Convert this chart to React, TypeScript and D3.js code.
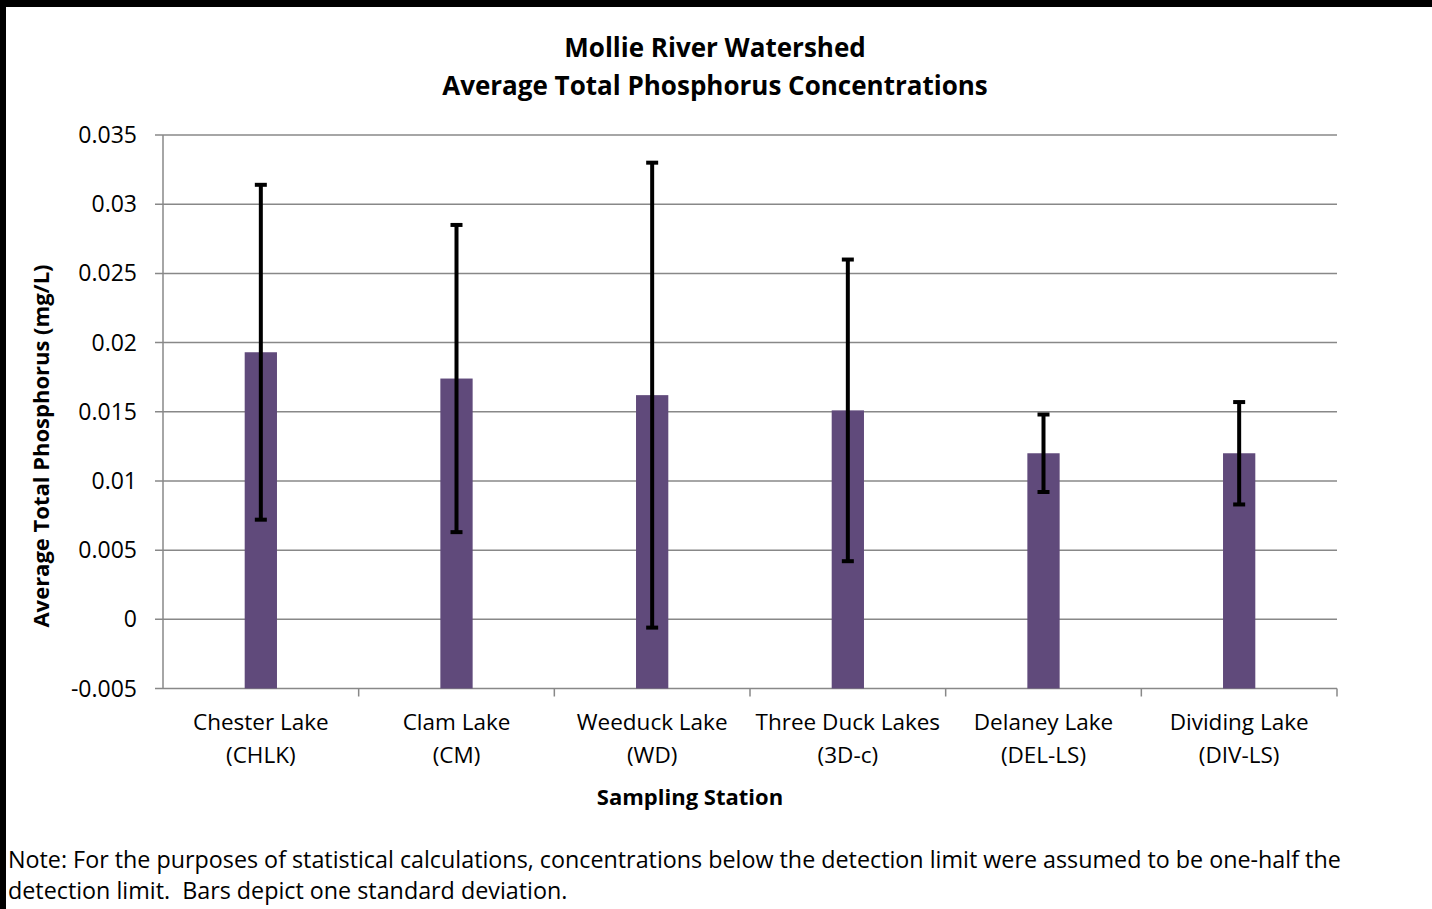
import React from 'react';
import * as d3 from 'd3';

// Station labels (two lines each) and the averages / standard deviations
const stationNames = ['Chester Lake', 'Clam Lake', 'Weeduck Lake', 'Three Duck Lakes', 'Delaney Lake', 'Dividing Lake'];
const stationCodes = ['(CHLK)', '(CM)', '(WD)', '(3D-c)', '(DEL-LS)', '(DIV-LS)'];
const avgPhosphorus = [0.0193, 0.0174, 0.0162, 0.0151, 0.012, 0.012];
const stdDev = [0.0121, 0.0111, 0.0168, 0.0109, 0.0028, 0.0037];
const yTicks = [-0.005, 0, 0.005, 0.01, 0.015, 0.02, 0.025, 0.03, 0.035];

const W = 1432;
const H = 909;
const margin = { left: 163, right: 1337, top: 135, bottom: 688.5 };
const FONT = '"Open Sans", sans-serif';
const BAR = '#604A7B';
const GRID = '#888888';

// Excel-style tick label: plain hyphen, no trailing zeros
const fmtTick = (t: number) => String(+t.toFixed(3));

export default function App() {
  const x = d3.scaleBand<string>().domain(stationNames).range([margin.left, margin.right]).paddingInner(0).paddingOuter(0);
  const y = d3.scaleLinear().domain([-0.005, 0.035]).range([margin.bottom, margin.top]);
  const barW = x.bandwidth() * 0.165;
  const capW = 12;

  return (
    <svg width={W} height={H} style={{ position: 'absolute', left: 0, top: 0, background: '#fff' }}>
      <rect x={0} y={0} width={W} height={H} fill="#fff" />
      {/* frame */}
      <rect x={0} y={0} width={W} height={7} fill="#000" />
      <rect x={0} y={0} width={6} height={H} fill="#000" />

      {/* title */}
      <text x={715} y={57} textAnchor="middle" fontFamily={FONT} fontWeight="bold" fontSize={26} fill="#000">
        Mollie River Watershed
      </text>
      <text x={715} y={95} textAnchor="middle" fontFamily={FONT} fontWeight="bold" fontSize={26} fill="#000">
        Average Total Phosphorus Concentrations
      </text>

      {/* gridlines + y ticks */}
      {yTicks.map(t => (
        <g key={t}>
          <line x1={margin.left - 8} x2={margin.right} y1={y(t)} y2={y(t)} stroke={GRID} strokeWidth={1.5} />
          <text x={137} y={y(t)} dy="0.35em" textAnchor="end" fontFamily={FONT} fontSize={23} fill="#000">
            {fmtTick(t)}
          </text>
        </g>
      ))}
      <line x1={margin.left} x2={margin.left} y1={margin.top} y2={margin.bottom} stroke={GRID} strokeWidth={1.5} />

      {/* x ticks at band boundaries */}
      {stationNames.map(s => (
        <line key={s} x1={(x(s) ?? 0) + x.bandwidth()} x2={(x(s) ?? 0) + x.bandwidth()} y1={margin.bottom} y2={margin.bottom + 8} stroke={GRID} strokeWidth={1.5} />
      ))}

      {/* bars */}
      {stationNames.map((s, i) => {
        const cx = (x(s) ?? 0) + x.bandwidth() / 2;
        const v = avgPhosphorus[i];
        return (
          <rect key={s} x={cx - barW / 2} y={y(v)} width={barW} height={y(-0.005) - y(v)} fill={BAR} />
        );
      })}

      {/* error bars */}
      {stationNames.map((s, i) => {
        const cx = (x(s) ?? 0) + x.bandwidth() / 2;
        const hi = y(avgPhosphorus[i] + stdDev[i]);
        const lo = y(avgPhosphorus[i] - stdDev[i]);
        return (
          <g key={s} stroke="#000" strokeWidth={4}>
            <line x1={cx} x2={cx} y1={hi} y2={lo} />
            <line x1={cx - capW / 2} x2={cx + capW / 2} y1={hi} y2={hi} />
            <line x1={cx - capW / 2} x2={cx + capW / 2} y1={lo} y2={lo} />
          </g>
        );
      })}

      {/* category labels */}
      {stationNames.map((s, i) => {
        const cx = (x(s) ?? 0) + x.bandwidth() / 2;
        return (
          <g key={s} fontFamily={FONT} fontSize={22.5} fill="#000" textAnchor="middle">
            <text x={cx} y={730}>{s}</text>
            <text x={cx} y={763}>{stationCodes[i]}</text>
          </g>
        );
      })}

      {/* axis titles */}
      <text x={690} y={805} textAnchor="middle" fontFamily={FONT} fontWeight="bold" fontSize={22} fill="#000">
        Sampling Station
      </text>
      <text transform="translate(49,446) rotate(-90)" textAnchor="middle" fontFamily={FONT} fontWeight="bold" fontSize={22} fill="#000">
        Average Total Phosphorus (mg/L)
      </text>

      {/* note */}
      <text x={8} y={868} fontFamily={FONT} fontSize={23.3} fill="#000">
        Note: For the purposes of statistical calculations, concentrations below the detection limit were assumed to be one-half the
      </text>
      <text x={8} y={899} fontFamily={FONT} fontSize={23.3} fill="#000" style={{ whiteSpace: 'pre' }}>
        {'detection limit.  Bars depict one standard deviation.'}
      </text>
    </svg>
  );
}
